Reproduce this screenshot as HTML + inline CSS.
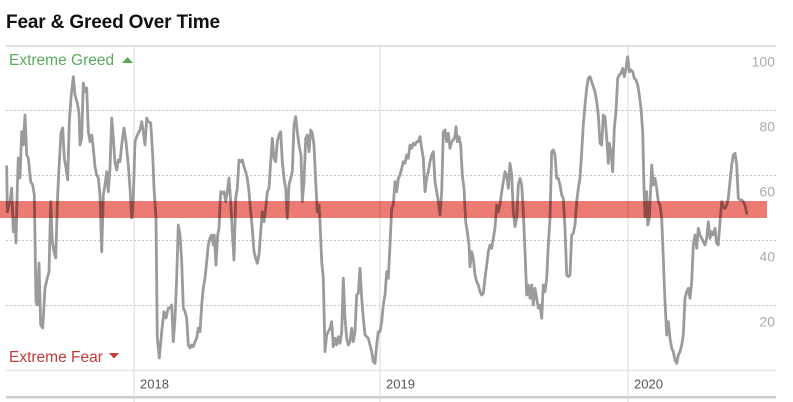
<!DOCTYPE html>
<html>
<head>
<meta charset="utf-8">
<style>
  html, body { margin: 0; padding: 0; background: #fff; }
  body { width: 793px; height: 402px; overflow: hidden; }
  svg { display: block; }
  text { font-family: "Liberation Sans", Arial, sans-serif; }
</style>
</head>
<body>
<svg width="793" height="402" viewBox="0 0 793 402" xmlns="http://www.w3.org/2000/svg">
  <rect x="0" y="0" width="793" height="402" fill="#fff"/>
  <!-- Title -->
  <text x="6" y="28" font-size="19" font-weight="bold" fill="#111" letter-spacing="-0.15">Fear &amp; Greed Over Time</text>

  <!-- vertical year gridlines -->
  <line x1="134" y1="46" x2="134" y2="402" stroke="#e6e6e6" stroke-width="1.5"/>
  <line x1="380" y1="46" x2="380" y2="402" stroke="#e6e6e6" stroke-width="1.5"/>
  <line x1="628" y1="46" x2="628" y2="402" stroke="#e6e6e6" stroke-width="1.5"/>

  <!-- top border -->
  <line x1="6" y1="46" x2="776" y2="46" stroke="#d6d6d6" stroke-width="1.5"/>
  <!-- dashed gridlines -->
  <g stroke="#c4c4c4" stroke-width="1" stroke-dasharray="2,2">
    <line x1="6" y1="110.5" x2="776" y2="110.5"/>
    <line x1="6" y1="175.5" x2="776" y2="175.5"/>
    <line x1="6" y1="240.5" x2="776" y2="240.5"/>
    <line x1="6" y1="305.5" x2="776" y2="305.5"/>
  </g>
  <!-- zero line -->
  <line x1="6" y1="370.5" x2="776" y2="370.5" stroke="#e6e6e6" stroke-width="1.5"/>
  <!-- bottom axis -->
  <rect x="6" y="396" width="770" height="2.5" fill="#cccccc"/>

  <!-- right labels -->
  <g font-size="14" fill="#ababab" text-anchor="end">
    <text x="775" y="66.5">100</text>
    <text x="775" y="131.5">80</text>
    <text x="775" y="196.5">60</text>
    <text x="775" y="261.5">40</text>
    <text x="775" y="326.5">20</text>
  </g>

  <!-- year labels -->
  <g font-size="13" fill="#555">
    <text x="140" y="388.5">2018</text>
    <text x="386" y="388.5">2019</text>
    <text x="634" y="388.5">2020</text>
  </g>

  <!-- Extreme labels -->
  <text x="9" y="65" font-size="15.5" fill="#5aab5c">Extreme Greed</text>
  <polygon points="122,63 133,63 127.5,57" fill="#5aab5c"/>
  <text x="9" y="362" font-size="15.5" fill="#c23b3b">Extreme Fear</text>
  <polygon points="109,353 119,353 114,358.5" fill="#c23b3b"/>

  <!-- series -->
  <polyline fill="none" stroke="#9b9b9b" stroke-width="2.8" stroke-linejoin="round" stroke-linecap="round" points="
6.7,166.7 7.3,211.7 10,201.7 11.7,188 13.3,231.7 15,218 16,243 17.3,188 18.3,158 20,178 21.7,131.7 23.3,145 25,115 26.7,155 28.3,158 30.7,181.7 32.7,185 34.3,195 36,301.7 37.3,305 39,263 40.7,325 42.7,328 45,288 47.3,278 49,271.7 50.7,201.7 52.3,241.7 54,251.7 55.7,258 57.7,195 59,168 61,133 62.7,128 64.3,158 66,168 67.7,180 69.3,121.7 71,98 73.3,76.7 75,95 77.3,103 79,113 80,145 81.7,138 83.3,83 85,91.7 86.7,88 88.3,131.7 90,141.7 91.7,135 93.3,148 95,166.7 96.7,175 98.3,178 100,195 101.7,251.7 103.3,195 105,185 106.7,171.7 108.3,191.7 110,168 111.7,118 113.3,138 115,163 116.7,170 118.3,160 120,161.7 121.7,145 124,128 126,141.7 128.3,165 130,188 131.7,218 133.3,198 135,141.7 136.7,136.7 138.3,133 140,130 141.7,121.7 143.3,131.7 145,145 146.7,118 148.3,121.7 150.7,123 152.7,155 154,188 156,218 157.3,338 159.3,358 161.7,331.7 164,311.7 166,318 168.3,308 170,308 171.7,305 173.3,341.7 175,318 176.7,278 178.3,225 180,235 181.7,261.7 183.3,308 185,311.7 186.7,318 188.3,345 190,348 191.7,345 193.3,346.7 195,341.7 196.7,338 198.3,328 200,331.7 201.7,305 203.3,288 205,278 206.7,261.7 208.3,245 210,238 211.7,235 213.3,245 214.3,235 216,265 217.7,235 219,228 220.7,191.7 222.3,193.3 224,191.7 225.7,201.7 227.3,191.7 229,178 230.7,201.7 232.3,231.7 234,260 235.7,198.3 237.3,188.3 239,160 240.7,161.7 242.3,160 244,166.7 245.7,171.7 247.3,178.3 249,191.7 250.7,211.7 252.3,228.3 254,251.7 255.7,258.3 257.3,263.3 259,255 260.7,231.7 262.3,211.7 264,221.7 265.7,208.3 267.3,191.7 269,188.3 270.7,161.7 272.3,138.3 274,158.3 275.7,161.7 277.3,141.7 279,135 280.7,131.7 282.3,161.7 284,178.3 285.7,188.3 287.3,218.3 289,185 290.7,178.3 292.3,171.7 294,125 295.7,116.7 297.3,131.7 299,145 301,155 302.3,201.7 304,181.7 305.7,138.3 307.3,135 309,151.7 310.7,130 312.3,133.3 314,145 315.7,181.7 317.3,211.7 319,205 320,221.7 321.7,261.7 323.3,278.3 325,351.7 326.7,335 328.3,331.7 330,328.3 331.7,321.7 333.3,346.7 335,338.3 336.7,345 338.3,336.7 340,343.3 341.7,331.7 343.3,278.3 345,318.3 346.7,338.3 348.3,345 350,341.7 351.7,328.3 353.3,341.7 355,331.7 356.7,295 358.3,293.3 360,268.3 361.7,298.3 363.3,318.3 365,335 366.7,336.7 368.3,338.3 370,345 371.7,351.7 373.3,361.7 375,363.3 376.7,345 378.3,331.7 380,331.7 381.7,321.7 383.3,305 385,295 386.7,271.7 388.3,278.3 390,245 391.7,208.3 393.3,205 395,181.7 396.7,191.7 398.3,178.3 400,175 401.7,168.3 403.3,161.7 405,163.3 406.7,155 408.3,158.3 410,145 411.7,148.3 413.3,143.3 415,145 416.7,141.7 418.3,141.7 420,136.7 421.7,148.3 423.3,158.3 425,191.7 426.7,178.3 428.3,171.7 430,161.7 431.7,155 433.3,151.7 435,181.7 436.7,191.7 438.3,201.7 440,215 441.7,191.7 443.3,131.7 445,130 446.7,141.7 448.3,133.3 450,148.3 451.7,141.7 453.3,140 455,136.7 456,126.7 457.3,141.7 459,136.7 460.7,145 462.3,175 464,188.3 465.7,221.7 467.3,231.7 469,245 470,266.7 471.7,251.7 473.3,258.3 475,275 476.7,281.7 478.3,285 480,291.7 481.7,295 483.3,293.3 485,278.3 486.7,265 488.3,251.7 490,245 491.7,248.3 493.3,238.3 495,228.3 496.7,205 498.3,211.7 500,205 501.7,191.7 503.3,181.7 505,171.7 506.7,175 508.3,188.3 510,163.3 511.7,175 513.3,211.7 515,226.7 516.7,218.3 518.3,185 520,178.3 521.7,185 523.3,211.7 525,251.7 526.7,295 528.3,285 530,298.3 531.7,285 533.3,305 535,288.3 536.7,298.3 538.3,308.3 540,305 541.7,318.3 543.3,285 545,291.7 546.7,278.3 548.3,245 550,218.3 551.7,151.7 553.3,150 555,155 556.7,178.3 558.3,178.3 560,185 561.7,195 563.3,198.3 565,228.3 566.7,275 568.3,276.7 570,275 571.7,235 573.3,233.3 575,225 576.7,201.7 578.3,188.3 580,178.3 581.7,151.7 583.3,125 585,105 586.7,88.3 588.3,78.3 590,76.7 591.7,81.7 593.3,86.7 595,91.7 596.7,101.7 598.3,115 600,143.3 601.7,145 603.3,115 605,116.7 606.7,138.3 608.3,163.3 609.3,143.3 611,151.7 612.7,171.7 614.3,128.3 616,111.7 617.7,78.3 619.3,75 621,73.3 622.7,68.3 624.3,76.7 626,68.3 627.7,56.7 629.3,71.7 631,70 632.7,71.7 634.3,78.3 636,80 637.7,85 639.3,95 641,108.3 642.7,131.7 644,188.3 645,216.7 646.7,191.7 647.7,225 649.3,218.3 650.7,188.3 651.7,165 653.3,185 655,178.3 656.7,188.3 658.3,201.7 660,205 661.7,218.3 663.3,258.3 665,301.7 666.7,335 668.3,321.7 670,338.3 671.7,348.3 673.3,351.7 675,360 676.7,363.3 678.3,355 680,351.7 681.7,345 683.3,335 685,298.3 686.7,291.7 688.3,288.3 690,298.3 691.7,281.7 693.3,245 695,235 696.7,248.3 698.3,228.3 700,235 701.7,238.3 703.3,241.7 705,245 706.7,238.3 708.3,221.7 710,238.3 711.7,231.7 713.3,235 715,228.3 716.7,243.3 718.3,245 720,221.7 721.7,201.7 723.3,206.7 725,208.3 726.7,205 728.3,198.3 730,181.7 731.7,165 733.3,155 735,153.3 736.7,165 738.3,198.3 740,200 741.7,200 743.3,201.7 745,205 746.7,213.3"/>

  <!-- red neutral band -->
  <rect x="0" y="201" width="767" height="17" fill="#ec7b74" style="mix-blend-mode:multiply"/>
</svg>
</body>
</html>
